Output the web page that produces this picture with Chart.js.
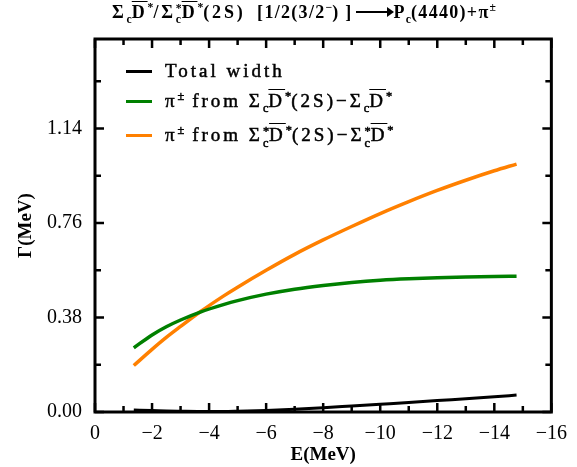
<!DOCTYPE html>
<html>
<head>
<meta charset="utf-8">
<script src="https://cdn.jsdelivr.net/npm/chart.js@4.4.1/dist/chart.umd.min.js"></script>
<style>
  body { margin: 0; background: #fff; }
  #wrap { position: relative; width: 577px; height: 467px; }
  #title {
    position: absolute; left: 112px; top: 2px; white-space: nowrap;
    font: bold 18px "Liberation Serif", serif; letter-spacing: 1.3px; color: #000;
  }
  #title .first { letter-spacing: 2.8px; }
  .arr { display: inline-block; position: relative; width: 33px; height: 2px; background: #000; vertical-align: 5px; margin: 0 5px 0 3px; }
  .arr::after { content: ""; position: absolute; right: -5px; top: -4px; border-left: 7px solid #000; border-top: 5px solid transparent; border-bottom: 5px solid transparent; }
  #legend {
    position: absolute; left: 126px; top: 56px;
    font: 19px "Liberation Serif", serif; letter-spacing: 3px; color: #000;
    -webkit-text-stroke: 0.5px #000;
  }
  .row { display: flex; align-items: center; white-space: nowrap; }
  .swatch { width: 26px; height: 3px; margin-right: 13px; }
  .ob { text-decoration: overline; text-decoration-thickness: 1px; }
  sub, sup { font-size: 0.65em; line-height: 0; letter-spacing: 0; }
  .ss { position: relative; display: inline-block; width: 0.5em; height: 1em; font-size: 0.65em; letter-spacing: 0; }
  .ss .a { position: absolute; left: 0; top: -0.35em; }
  .ss .b { position: absolute; left: 0; top: 0.6em; }
</style>
</head>
<body>
<div id="wrap">
  <canvas id="chart" width="577" height="467"></canvas>
  <div id="title"></div>
  <div id="legend"></div>
</div>
<script>
// energies (MeV)
const energies = [-1.36, -2, -2.5, -3, -3.69, -4.5, -5, -6, -7, -8, -9, -10, -11, -12, -13, -14, -14.78];
// widths (MeV)
const totalWidth = [0.008, 0.006, 0.004, 0.003, 0.002, 0.002, 0.003, 0.006, 0.011, 0.017, 0.024, 0.031, 0.038, 0.046, 0.053, 0.061, 0.068];
const piFromSigmaC = [0.258, 0.310, 0.343, 0.370, 0.402, 0.432, 0.448, 0.474, 0.494, 0.509, 0.521, 0.530, 0.536, 0.540, 0.543, 0.545, 0.546];
const piFromSigmaCStar = [0.187, 0.252, 0.300, 0.344, 0.403, 0.466, 0.502, 0.570, 0.634, 0.692, 0.746, 0.798, 0.846, 0.891, 0.932, 0.970, 0.997];

const seriesLabels = [
  "Total width",
  "π± from ΣcD̄*(2S)-ΣcD̄*",
  "π± from Σc*D̄*(2S)-Σc*D̄*"
];
const starC = '<span class="ss"><span class="a">*</span><span class="b">c</span></span>';
const seriesLabelsHtml = [
  "Total width",
  'π<sup>±</sup> from Σ<sub>c</sub><span class="ob">D</span><sup>*</sup>(2S)−Σ<sub>c</sub><span class="ob">D</span><sup>*</sup>',
  'π<sup>±</sup> from Σ' + starC + '<span class="ob">D</span><sup>*</sup>(2S)−Σ' + starC + '<span class="ob">D</span><sup>*</sup>'
];
const seriesColors = ["#000000", "#008000", "#ff8000"];
const seriesData = [totalWidth, piFromSigmaC, piFromSigmaCStar];

const xTicks = [0, -2, -4, -6, -8, -10, -12, -14, -16];
const yTicks = [0, 0.38, 0.76, 1.14];

const titleHtml = '<span class="first">Σ<sub>c</sub><span class="ob">D</span><sup>*</sup>/Σ' + starC + '<span class="ob">D</span><sup>*</sup>(2S)</span>&nbsp;&nbsp;[1/2(3/2<sup>−</sup>)&nbsp;]<span class="arr"></span>P<sub>c</sub>(4440)+π<sup>±</sup>';
document.getElementById("title").innerHTML = titleHtml;

const frameTicks = {
  id: "frameTicks",
  afterDraw(chart) {
    const { ctx, chartArea: a, scales: { x, y } } = chart;
    ctx.save();
    ctx.strokeStyle = "#000";
    ctx.lineWidth = 2.5;
    ctx.beginPath();
    for (let v = 0; v >= -16; v -= 1) {
      const px = x.getPixelForValue(v);
      const len = v % 2 === 0 ? 9 : 6;
      ctx.moveTo(px, a.bottom); ctx.lineTo(px, a.bottom - len);
      ctx.moveTo(px, a.top); ctx.lineTo(px, a.top + len);
    }
    for (let i = 0; i * 0.19 <= 1.5; i++) {
      const py = y.getPixelForValue(i * 0.19);
      const len = i % 2 === 0 ? 9 : 6;
      ctx.moveTo(a.left, py); ctx.lineTo(a.left + len, py);
      ctx.moveTo(a.right, py); ctx.lineTo(a.right - len, py);
    }
    ctx.stroke();
    ctx.lineWidth = 3;
    ctx.strokeRect(a.left, a.top, a.right - a.left, a.bottom - a.top);
    ctx.restore();
  }
};

const tickFont = { family: "Liberation Serif", size: 20 };
const titleFont = { family: "Liberation Serif", size: 19, weight: "bold" };

const chart = new Chart(document.getElementById("chart"), {
  type: "line",
  data: {
    datasets: seriesData.map((d, i) => ({
      label: seriesLabels[i],
      data: d.map((v, j) => ({ x: energies[j], y: v })),
      borderColor: seriesColors[i],
      borderWidth: i === 0 ? 3 : 3.5,
      pointRadius: 0,
      fill: false,
      cubicInterpolationMode: "monotone"
    }))
  },
  options: {
    responsive: false,
    animation: false,
    layout: { padding: { top: 39, right: 19, left: 0, bottom: 0 } },
    plugins: { legend: { display: false }, tooltip: { enabled: false } },
    scales: {
      x: {
        type: "linear",
        min: -16, max: 0, reverse: true,
        grid: { display: false, drawTicks: false },
        border: { display: false },
        afterBuildTicks: (s) => { s.ticks = xTicks.map((v) => ({ value: v })); },
        afterFit: (s) => { s.height = 55; },
        ticks: {
          color: "#000", padding: 10, font: tickFont, maxRotation: 0,
          callback: (v) => (v === 0 ? "0" : "−" + Math.abs(v))
        },
        title: {
          display: true, text: "E(MeV)", color: "#000", font: titleFont,
          padding: { top: 0, bottom: 1 }
        }
      },
      y: {
        min: 0, max: 1.5,
        grid: { display: false, drawTicks: false },
        border: { display: false },
        afterBuildTicks: (s) => { s.ticks = yTicks.map((v) => ({ value: v })); },
        afterFit: (s) => { s.width = 95; },
        ticks: {
          color: "#000", padding: 13, font: tickFont,
          callback: (v) => v.toFixed(2)
        },
        title: {
          display: true, text: "Γ(MeV)", color: "#000", font: titleFont,
          padding: { top: 15, bottom: 0 }
        }
      }
    }
  },
  plugins: [frameTicks]
});

const legend = document.getElementById("legend");
const rowHeights = [30, 30, 38];
chart.data.datasets.forEach((ds, i) => {
  const row = document.createElement("div");
  row.className = "row";
  row.style.height = rowHeights[i] + "px";
  row.innerHTML = `<span class="swatch" style="background:${ds.borderColor}"></span><span>${seriesLabelsHtml[i]}</span>`;
  legend.appendChild(row);
});
</script>
</body>
</html>
